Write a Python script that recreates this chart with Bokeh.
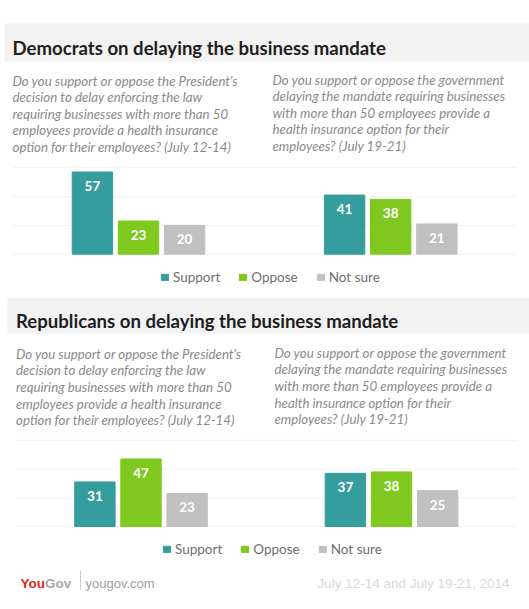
from bokeh.plotting import figure
from bokeh.models import Range1d, Legend, LegendItem, ColumnDataSource
from bokeh.embed import file_html
from bokeh.resources import INLINE
from bokeh.core.properties import value

# ---------------- data ----------------
answers = ["Support", "Oppose", "Not sure"]
answer_colors = ["#369d9f", "#7ec820", "#c0c0c0"]
dem_july_12_14 = [57, 23, 20]
dem_july_19_21 = [41, 38, 21]
rep_july_12_14 = [31, 47, 23]
rep_july_19_21 = [37, 38, 25]
section_titles = ["Democrats on delaying the business mandate",
                  "Republicans on delaying the business mandate"]
question_july_12_14 = ["Do you support or oppose the President\u2019s",
                       "decision to delay enforcing the law",
                       "requiring businesses with more than 50",
                       "employees provide a health insurance",
                       "option for their employees? (July 12-14)"]
question_july_19_21 = ["Do you support or oppose the government",
                       "delaying the mandate requiring businesses",
                       "with more than 50 employees provide a",
                       "health insurance option for their",
                       "employees? (July 19-21)"]
gridline_values = [0, 20, 40, 60]
footer_brand = ["You", "Gov"]
footer_site = "yougov.com"
footer_dates = "July 12-14 and July 19-21, 2014"

# ---------------- layout ----------------
W, H = 529, 609
FONT = "Lato"
p = figure(width=W, height=H, x_range=Range1d(0, W), y_range=Range1d(H, 0),
           output_backend="svg", toolbar_location=None,
           x_axis_type=None, y_axis_type=None, min_border=0,
           outline_line_color=None, background_fill_color="white",
           border_fill_color="white")

sections = [
    dict(title=section_titles[0], data=[dem_july_12_14, dem_july_19_21],
         band=(4, 23, 61), title_xy=(12, 47), q_left=(12, 80), q_right=(272, 79),
         baseline=253.7, scale=1.442, centers=(138.0, 390.2), grid_x=(12, 516),
         legend_xy=(160, 278.3)),
    dict(title=section_titles[1], data=[rep_july_12_14, rep_july_19_21],
         band=(7, 297, 333), title_xy=(15.5, 320), q_left=(15.5, 353.3),
         q_right=(274, 352.3), baseline=526.0, scale=1.437,
         centers=(140.5, 391.0), grid_x=(15, 516), legend_xy=(162, 550.3)),
]
PITCH = 46.1
BAR_W = 40.4
LINE_H = 16.65
questions = [question_july_12_14, question_july_19_21]

for k, s in enumerate(sections):
    bx, by0, by1 = s["band"]
    p.quad(left=[bx], right=[W], top=[by0], bottom=[by1],
           fill_color="#f2f2f2", line_color=None)
    tx, ty = s["title_xy"]
    p.text(x=[tx], y=[ty], text=[s["title"]], text_font=value(FONT),
           text_font_style="bold", text_font_size="18.6px", text_color="#1e1e1e",
           text_baseline="alphabetic", text_align="left")
    for (qx, qy), lines in zip([s["q_left"], s["q_right"]], questions):
        p.text(x=[qx] * len(lines), y=[qy + i * LINE_H for i in range(len(lines))],
               text=lines, text_font=value(FONT), text_font_style="italic",
               text_font_size="13.3px", text_color="#8a8a8a",
               text_baseline="alphabetic", text_align="left")

    yname = f"y{k}"
    base, sc = s["baseline"], s["scale"]
    p.extra_y_ranges[yname] = Range1d(start=(base - H) / sc, end=base / sc)
    gx0, gx1 = s["grid_x"]
    p.segment(x0=[gx0] * len(gridline_values), x1=[gx1] * len(gridline_values),
              y0=gridline_values, y1=gridline_values, y_range_name=yname,
              line_color="#f2f2f2", line_width=1)

    first_r = None
    for j, (vals, c) in enumerate(zip(s["data"], s["centers"])):
        xname = f"x{k}{j}"
        p.extra_x_ranges[xname] = Range1d(start=-c / PITCH + 1,
                                          end=(W - c) / PITCH + 1)
        src = ColumnDataSource(dict(idx=list(range(len(vals))), value=vals,
                                    color=answer_colors,
                                    label=[str(v) for v in vals]))
        r = p.vbar(x="idx", top="value", bottom=0, width=BAR_W / PITCH,
                   fill_color="color", line_color="color", source=src,
                   x_range_name=xname, y_range_name=yname)
        p.text(x="idx", y="value", text="label", source=src, y_offset=14,
               x_range_name=xname, y_range_name=yname,
               text_font=value(FONT), text_font_style="bold", text_font_size="13.5px",
               text_color="white", text_align="center", text_baseline="middle")
        if first_r is None:
            first_r = r

    lx, ly = s["legend_xy"]
    legend = Legend(items=[LegendItem(label=a, renderers=[first_r], index=i)
                           for i, a in enumerate(answers)],
                    orientation="horizontal", location=(lx, H - (ly + 7)),
                    glyph_width=9, glyph_height=8, label_height=14, label_standoff=4,
                    spacing=18, padding=0, margin=0, border_line_alpha=0,
                    background_fill_alpha=0, label_text_font=FONT,
                    label_text_font_size="13.5px", label_text_color="#6e6e6e")
    p.add_layout(legend)

# ---------------- footer ----------------
FB = 583.3
p.text(x=[20], y=[FB], text=[footer_brand[0]], text_font=value("Liberation Sans"),
       text_font_style="bold", text_font_size="13.5px", text_color="#e2231a",
       text_baseline="alphabetic")
p.text(x=[44.5], y=[FB], text=[footer_brand[1]], text_font=value("Liberation Sans"),
       text_font_style="bold", text_font_size="13.5px", text_color="#a8a8a8",
       text_baseline="alphabetic")
p.segment(x0=[80], x1=[80], y0=[570], y1=[589], line_color="#c8c8c8", line_width=1)
p.text(x=[85], y=[FB], text=[footer_site], text_font=value("Liberation Sans"),
       text_font_size="13px", text_color="#a0a0a0", text_baseline="alphabetic")
p.text(x=[509], y=[FB], text=[footer_dates], text_font=value("Liberation Sans"),
       text_font_size="13.5px", text_color="#d9d9d9", text_baseline="alphabetic",
       text_align="right")

open("out.html", "w").write(file_html(p, INLINE))
